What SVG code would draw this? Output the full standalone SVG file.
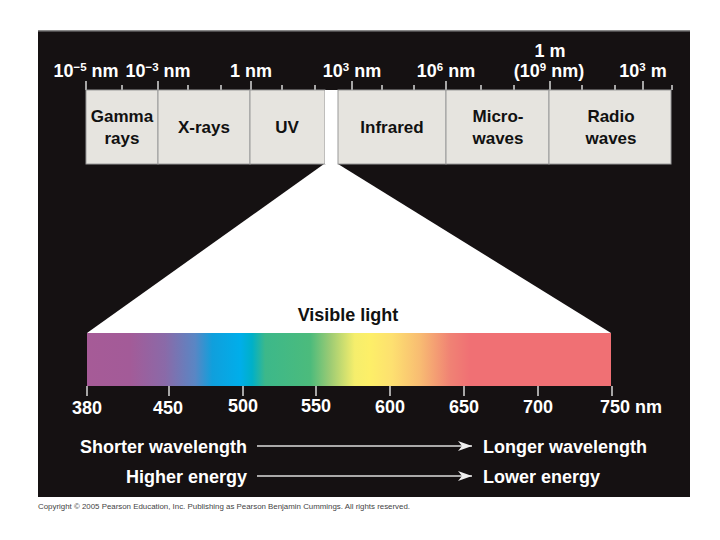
<svg xmlns="http://www.w3.org/2000/svg" width="720" height="540" viewBox="0 0 720 540">
<defs>
<style>
.t{font-family:"Liberation Sans",Arial,sans-serif;font-weight:bold;font-size:18px;fill:#fff}
.b{font-family:"Liberation Sans",Arial,sans-serif;font-weight:bold;font-size:17px;fill:#111}
.s{font-size:11.5px}
.tick{stroke:#d8d8d8;stroke-width:1.5}
.box{fill:#e6e4df;stroke:#999;stroke-width:1}
.arr{stroke:#ddd;stroke-width:1.5;fill:none}
</style>
<linearGradient id="spec" x1="87" y1="0" x2="611" y2="0" gradientUnits="userSpaceOnUse">
<stop offset="0" stop-color="#a65b97"/>
<stop offset="0.082" stop-color="#a35b98"/>
<stop offset="0.149" stop-color="#8a6aa8"/>
<stop offset="0.206" stop-color="#5a86c4"/>
<stop offset="0.239" stop-color="#109fdc"/>
<stop offset="0.292" stop-color="#00aeea"/>
<stop offset="0.315" stop-color="#00b0c8"/>
<stop offset="0.34" stop-color="#3cb88a"/>
<stop offset="0.426" stop-color="#4cbb7c"/>
<stop offset="0.464" stop-color="#9ccb74"/>
<stop offset="0.511" stop-color="#f5ee6c"/>
<stop offset="0.54" stop-color="#fdef68"/>
<stop offset="0.582" stop-color="#fde070"/>
<stop offset="0.635" stop-color="#f8bc72"/>
<stop offset="0.693" stop-color="#f08274"/>
<stop offset="0.731" stop-color="#f07074"/>
<stop offset="1" stop-color="#f07074"/>
</linearGradient>
<marker id="ah" viewBox="0 0 14 10" refX="14" refY="5" markerWidth="14" markerHeight="10" markerUnits="userSpaceOnUse" orient="auto">
<path d="M0,0 L14,5 L0,10 L4,5 Z" fill="#eee"/>
</marker>
</defs>
<rect x="0" y="0" width="720" height="540" fill="#fff"/>
<rect x="38" y="30" width="652" height="467" fill="#151112"/>
<rect x="38" y="30" width="652" height="1.5" fill="#888"/>

<g id="scale-ticks">
<path class="tick" d="M86,81V90 M158,81V90 M251,81V90 M352,81V90 M446,81V90 M550,81V90 M643,81V90 M122,85V90 M188,85V90 M221,85V90 M282,85V90 M315,85V90 M382,85V90 M414,85V90 M481,85V90 M514,85V90 M582,85V90 M615,85V90 M672,85V90"/>
</g>

<g id="scale-labels" class="t" text-anchor="middle">
<text x="86" y="77">10<tspan class="s" dy="-6">−5</tspan><tspan dy="6"> nm</tspan></text>
<text x="158" y="77">10<tspan class="s" dy="-6">−3</tspan><tspan dy="6"> nm</tspan></text>
<text x="251" y="77">1 nm</text>
<text x="352" y="77">10<tspan class="s" dy="-6">3</tspan><tspan dy="6"> nm</tspan></text>
<text x="446" y="77">10<tspan class="s" dy="-6">6</tspan><tspan dy="6"> nm</tspan></text>
<text x="550" y="57">1 m</text>
<text x="549" y="77">(10<tspan class="s" dy="-6">9</tspan><tspan dy="6"> nm)</tspan></text>
<text x="643" y="77">10<tspan class="s" dy="-6">3</tspan><tspan dy="6"> m</tspan></text>
</g>

<g id="beam">
<polygon points="324,164 338,164 611,333 87,333" fill="#fff"/>
</g>

<g id="gamma"><rect class="box" x="86" y="90" width="72" height="74"/>
<text class="b" x="122" y="122" text-anchor="middle">Gamma</text>
<text class="b" x="122" y="144" text-anchor="middle">rays</text></g>
<g id="xrays"><rect class="box" x="158" y="90" width="92" height="74"/>
<text class="b" x="204" y="133" text-anchor="middle">X-rays</text></g>
<g id="uv"><rect class="box" x="250" y="90" width="75" height="74"/>
<text class="b" x="287" y="133" text-anchor="middle">UV</text></g>
<g id="visible-slot"><rect x="325" y="90" width="13" height="74" fill="#fff"/></g>
<g id="infrared"><rect class="box" x="338" y="90" width="108" height="74"/>
<text class="b" x="392" y="133" text-anchor="middle">Infrared</text></g>
<g id="microwaves"><rect class="box" x="446" y="90" width="103" height="74"/>
<text class="b" x="498" y="122" text-anchor="middle">Micro-</text>
<text class="b" x="498" y="144" text-anchor="middle">waves</text></g>
<g id="radio"><rect class="box" x="549" y="90" width="122" height="74"/>
<text class="b" x="611" y="122" text-anchor="middle">Radio</text>
<text class="b" x="611" y="144" text-anchor="middle">waves</text></g>

<g id="visible-light">
<text class="b" x="348" y="321" text-anchor="middle" style="font-size:18px">Visible light</text>
<rect x="87" y="333" width="524" height="53" fill="url(#spec)"/>
<path class="tick" d="M87,386V396 M169,386V396 M243,386V396 M316,386V396 M390,386V396 M464,386V396 M538,386V396 M612,386V396"/>
</g>

<g id="nm-labels" class="t" text-anchor="middle">
<text x="87" y="414">380</text>
<text x="168" y="414">450</text>
<text x="243" y="412">500</text>
<text x="316" y="412">550</text>
<text x="390" y="413">600</text>
<text x="464" y="413">650</text>
<text x="538" y="413">700</text>
<text x="631" y="413">750 nm</text>
</g>

<g id="connectors">
<line class="arr" x1="257" y1="446" x2="472" y2="446" marker-end="url(#ah)"/>
<line class="arr" x1="257" y1="476" x2="472" y2="476" marker-end="url(#ah)"/>
</g>

<g id="direction-labels" class="t">
<text x="247" y="453" text-anchor="end">Shorter wavelength</text>
<text x="247" y="483" text-anchor="end">Higher energy</text>
<text x="483" y="453">Longer wavelength</text>
<text x="483" y="483">Lower energy</text>
</g>

<text x="38" y="509" font-family="'Liberation Sans',Arial,sans-serif" font-size="8" fill="#444" textLength="372" lengthAdjust="spacingAndGlyphs">Copyright © 2005 Pearson Education, Inc. Publishing as Pearson Benjamin Cummings. All rights reserved.</text>
</svg>
